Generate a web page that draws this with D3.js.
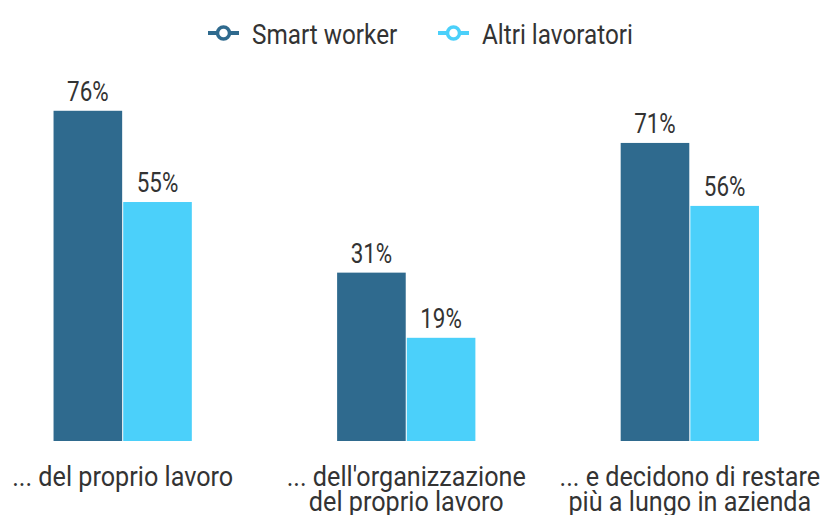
<!DOCTYPE html>
<html>
<head>
<meta charset="utf-8">
<script src="https://cdn.jsdelivr.net/npm/d3@7"></script>
<style>
  body { margin: 0; background: #fff; }
  text { font-family: Roboto, "Noto Sans", sans-serif; fill: #333; }
</style>
</head>
<body>
<div id="chart"></div>
<script>
// Data
const categories = [
  ["... del proprio lavoro"],
  ["... dell'organizzazione", "del proprio lavoro"],
  ["... e decidono di restare", "più a lungo in azienda"]
];
const seriesNames = ["Smart worker", "Altri lavoratori"];
const smartWorker = [76, 31, 71];
const altriLavoratori = [55, 19, 56];
// each group in the original has its own value axis
const groupMax = [100, 80, 103.5];

const colors = ["#2f6a8e", "#4bd0fa"];

const width = 826, height = 515;
const baseY = 441, topY = 6.5;

// the original uses a condensed face; squeeze Roboto horizontally
const squeezeText = 0.9, squeezeNum = 0.8;

const svg = d3.select("#chart").append("svg")
  .attr("width", width)
  .attr("height", height);

const x = d3.scaleBand()
  .domain(d3.range(categories.length))
  .range([52.5, 760])
  .paddingInner(0.505)
  .paddingOuter(0);

const xInner = d3.scaleBand()
  .domain(seriesNames)
  .range([0, x.bandwidth()])
  .padding(0.015);

const yScales = groupMax.map(m => d3.scaleLinear().domain([0, m]).range([baseY, topY]));

const rows = categories.map((c, i) => ({
  i,
  values: [smartWorker[i], altriLavoratori[i]]
}));

const group = svg.append("g").selectAll("g")
  .data(rows)
  .enter().append("g")
  .attr("transform", d => `translate(${x(d.i)},0)`);

const bars = group.selectAll("g.bar")
  .data(d => d.values.map((v, j) => ({ v, j, y: yScales[d.i] })))
  .enter().append("g")
  .attr("class", "bar");

bars.append("rect")
  .attr("x", d => xInner(seriesNames[d.j]))
  .attr("width", xInner.bandwidth())
  .attr("y", d => d.y(d.v))
  .attr("height", d => baseY - d.y(d.v))
  .attr("fill", d => colors[d.j]);

bars.append("text")
  .attr("transform", d => `translate(${xInner(seriesNames[d.j]) + xInner.bandwidth() / 2},${d.y(d.v) - 10}) scale(${squeezeNum},1)`)
  .attr("text-anchor", "middle")
  .style("font-size", "28px")
  .text(d => d.v + "%");

// Category labels
svg.append("g").selectAll("text")
  .data(categories)
  .enter().append("text")
  .attr("transform", (d, i) => `translate(${x(i) + x.bandwidth() / 2},486) scale(${squeezeText},1)`)
  .attr("text-anchor", "middle")
  .style("font-size", "28px")
  .selectAll("tspan")
  .data(d => d)
  .enter().append("tspan")
  .attr("x", 0)
  .attr("dy", (d, k) => k === 0 ? 0 : 25)
  .text(d => d);

// Legend
const legendX = [208, 438];
const legend = svg.append("g").selectAll("g")
  .data(seriesNames)
  .enter().append("g")
  .attr("transform", (d, i) => `translate(${legendX[i]},33)`);

legend.append("line")
  .attr("x1", 0).attr("x2", 31)
  .attr("stroke", (d, i) => colors[i])
  .attr("stroke-width", 4);

legend.append("circle")
  .attr("cx", 15.5)
  .attr("r", 6)
  .attr("fill", "#fff")
  .attr("stroke", (d, i) => colors[i])
  .attr("stroke-width", 3.5);

legend.append("text")
  .attr("transform", "translate(44,11) scale(" + squeezeText + ",1)")
  .style("font-size", "27px")
  .text(d => d);
</script>
</body>
</html>
